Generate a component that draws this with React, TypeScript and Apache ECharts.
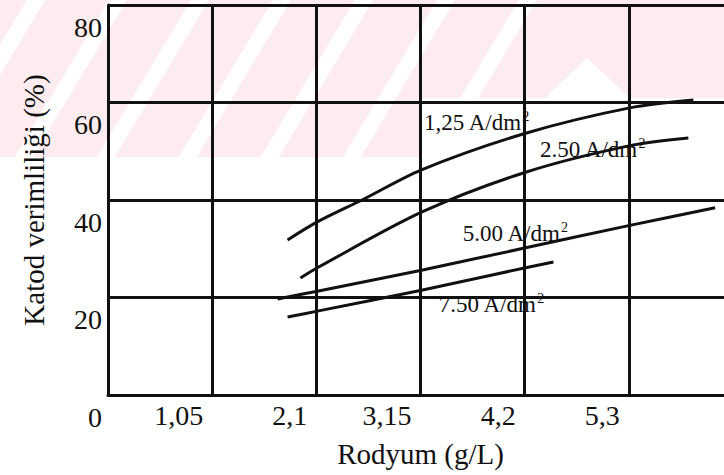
import React, { useEffect, useRef } from "react";
import * as echarts from "echarts";

const SERIF = "'Liberation Serif', 'Times New Roman', serif";
const INK = "#111";

const xTickLabels = ["0", "1,05", "2,1", "3,15", "4,2", "5,3", "6,3"];
const xStep = 1.05;

const curveNames = ["1,25 A/dm", "2.50 A/dm", "5.00 A/dm", "7.50 A/dm"];

const s125 = [[1.81, 31.8], [2.11, 35.5], [2.56, 40.0], [3.16, 46.2], [4.21, 53.7], [5.26, 58.9], [5.9, 60.5]];
const s250 = [[1.94, 24.0], [2.11, 26.1], [3.16, 37.5], [4.21, 45.7], [5.25, 51.1], [5.85, 52.7]];
const s500 = [[1.71, 19.7], [2.11, 21.3], [3.16, 25.6], [4.21, 30.2], [5.26, 34.8], [6.12, 38.4]];
const s750 = [[1.81, 16.0], [2.11, 17.2], [3.16, 21.5], [4.21, 26.1], [4.49, 27.3]];

const labelAnchors = [[3.18, 55.8], [4.35, 50.3], [3.57, 33.2], [3.33, 18.5]];

const seriesData = [s125, s250, s500, s750];

function buildStripes() {
  const els: any[] = [];
  const starts = [36, 118, 200, 282, 364, 446, 528];
  starts.forEach((c) => {
    els.push({
      type: "polygon",
      z: -9,
      silent: true,
      shape: { points: [[c - 9, 0], [c + 9, 0], [c + 9 - 0.6 * 160, 160], [c - 9 - 0.6 * 160, 160]] },
      style: { fill: "#ffffff" },
    });
  });
  els.push({
    type: "polygon",
    z: -9,
    silent: true,
    shape: { points: [[545, 98], [587, 58], [630, 98]] },
    style: { fill: "#ffffff" },
  });
  return els;
}

export default function App() {
  const ref = useRef<HTMLDivElement>(null);
  useEffect(() => {
    if (!ref.current) return;
    const chart = echarts.init(ref.current, null, { renderer: "svg" });
    const option: any = {
      animation: false,
      backgroundColor: "#ffffff",
      textStyle: { fontFamily: SERIF },
      graphic: [
        {
          type: "polygon",
          z: -10,
          silent: true,
          shape: { points: [[0, 0], [724, 0], [724, 98], [421, 98], [421, 157], [0, 157]] },
          style: { fill: "#fdecef" },
        },
        ...buildStripes(),
      ],
      grid: { left: 108, top: 5, right: -9, bottom: 80, containLabel: false, outerBoundsMode: "none" },
      xAxis: {
        type: "value",
        min: 0,
        max: 6.3,
        interval: xStep,
        axisLine: { show: true, lineStyle: { color: INK, width: 3 } },
        axisTick: { show: false },
        splitLine: { show: true, lineStyle: { color: INK, width: 3 } },
        axisLabel: {
          color: INK,
          fontFamily: SERIF,
          fontSize: 28,
          margin: 6,
          align: "right",
          formatter: (v: number) => {
            const i = Math.round(v / xStep);
            if (i === 0 || i >= 6) return "";
            return `{v|${xTickLabels[i]}}`;
          },
          rich: {
            v: { fontSize: 28, fontFamily: SERIF, color: INK, padding: [0, 9, 0, 0] },
          },
        },
        name: "Rodyum (g/L)",
        nameLocation: "middle",
        nameGap: 44,
        nameTextStyle: { fontSize: 29, color: INK, fontFamily: SERIF },
      },
      yAxis: {
        type: "value",
        min: 0,
        max: 80,
        interval: 20,
        axisLine: { show: true, lineStyle: { color: INK, width: 3 } },
        axisTick: { show: false },
        splitLine: { show: true, lineStyle: { color: INK, width: 3 } },
        axisLabel: {
          fontSize: 28,
          color: INK,
          fontFamily: SERIF,
          margin: 6,
          verticalAlign: "top",
          lineHeight: 44,
        },
        name: "Katod verimliliği (%)",
        nameLocation: "middle",
        nameGap: 60,
        nameTextStyle: { fontSize: 29, color: INK, fontFamily: SERIF },
      },
      series: seriesData.map((d, i) => ({
        type: "line",
        data: d,
        smooth: 0.3,
        symbol: "none",
        lineStyle: { color: INK, width: 3 },
        z: 5,
        markPoint: {
          symbol: "circle",
          symbolSize: 1,
          itemStyle: { color: "rgba(0,0,0,0)" },
          silent: true,
          data: [{ coord: labelAnchors[i] }],
          label: {
            show: true,
            position: "right",
            distance: 0,
            formatter: `{a|${curveNames[i]}}{s|2}`,
            rich: {
              a: { fontSize: 23, fontFamily: SERIF, color: INK, lineHeight: 26 },
              s: { fontSize: 14, fontFamily: SERIF, color: INK, lineHeight: 14, verticalAlign: "top" },
            },
          },
        },
      })),
    };
    chart.setOption(option);
    return () => chart.dispose();
  }, []);
  return (
    <div
      ref={ref}
      style={{ position: "fixed", left: 0, top: 0, width: 724, height: 475 }}
    />
  );
}
